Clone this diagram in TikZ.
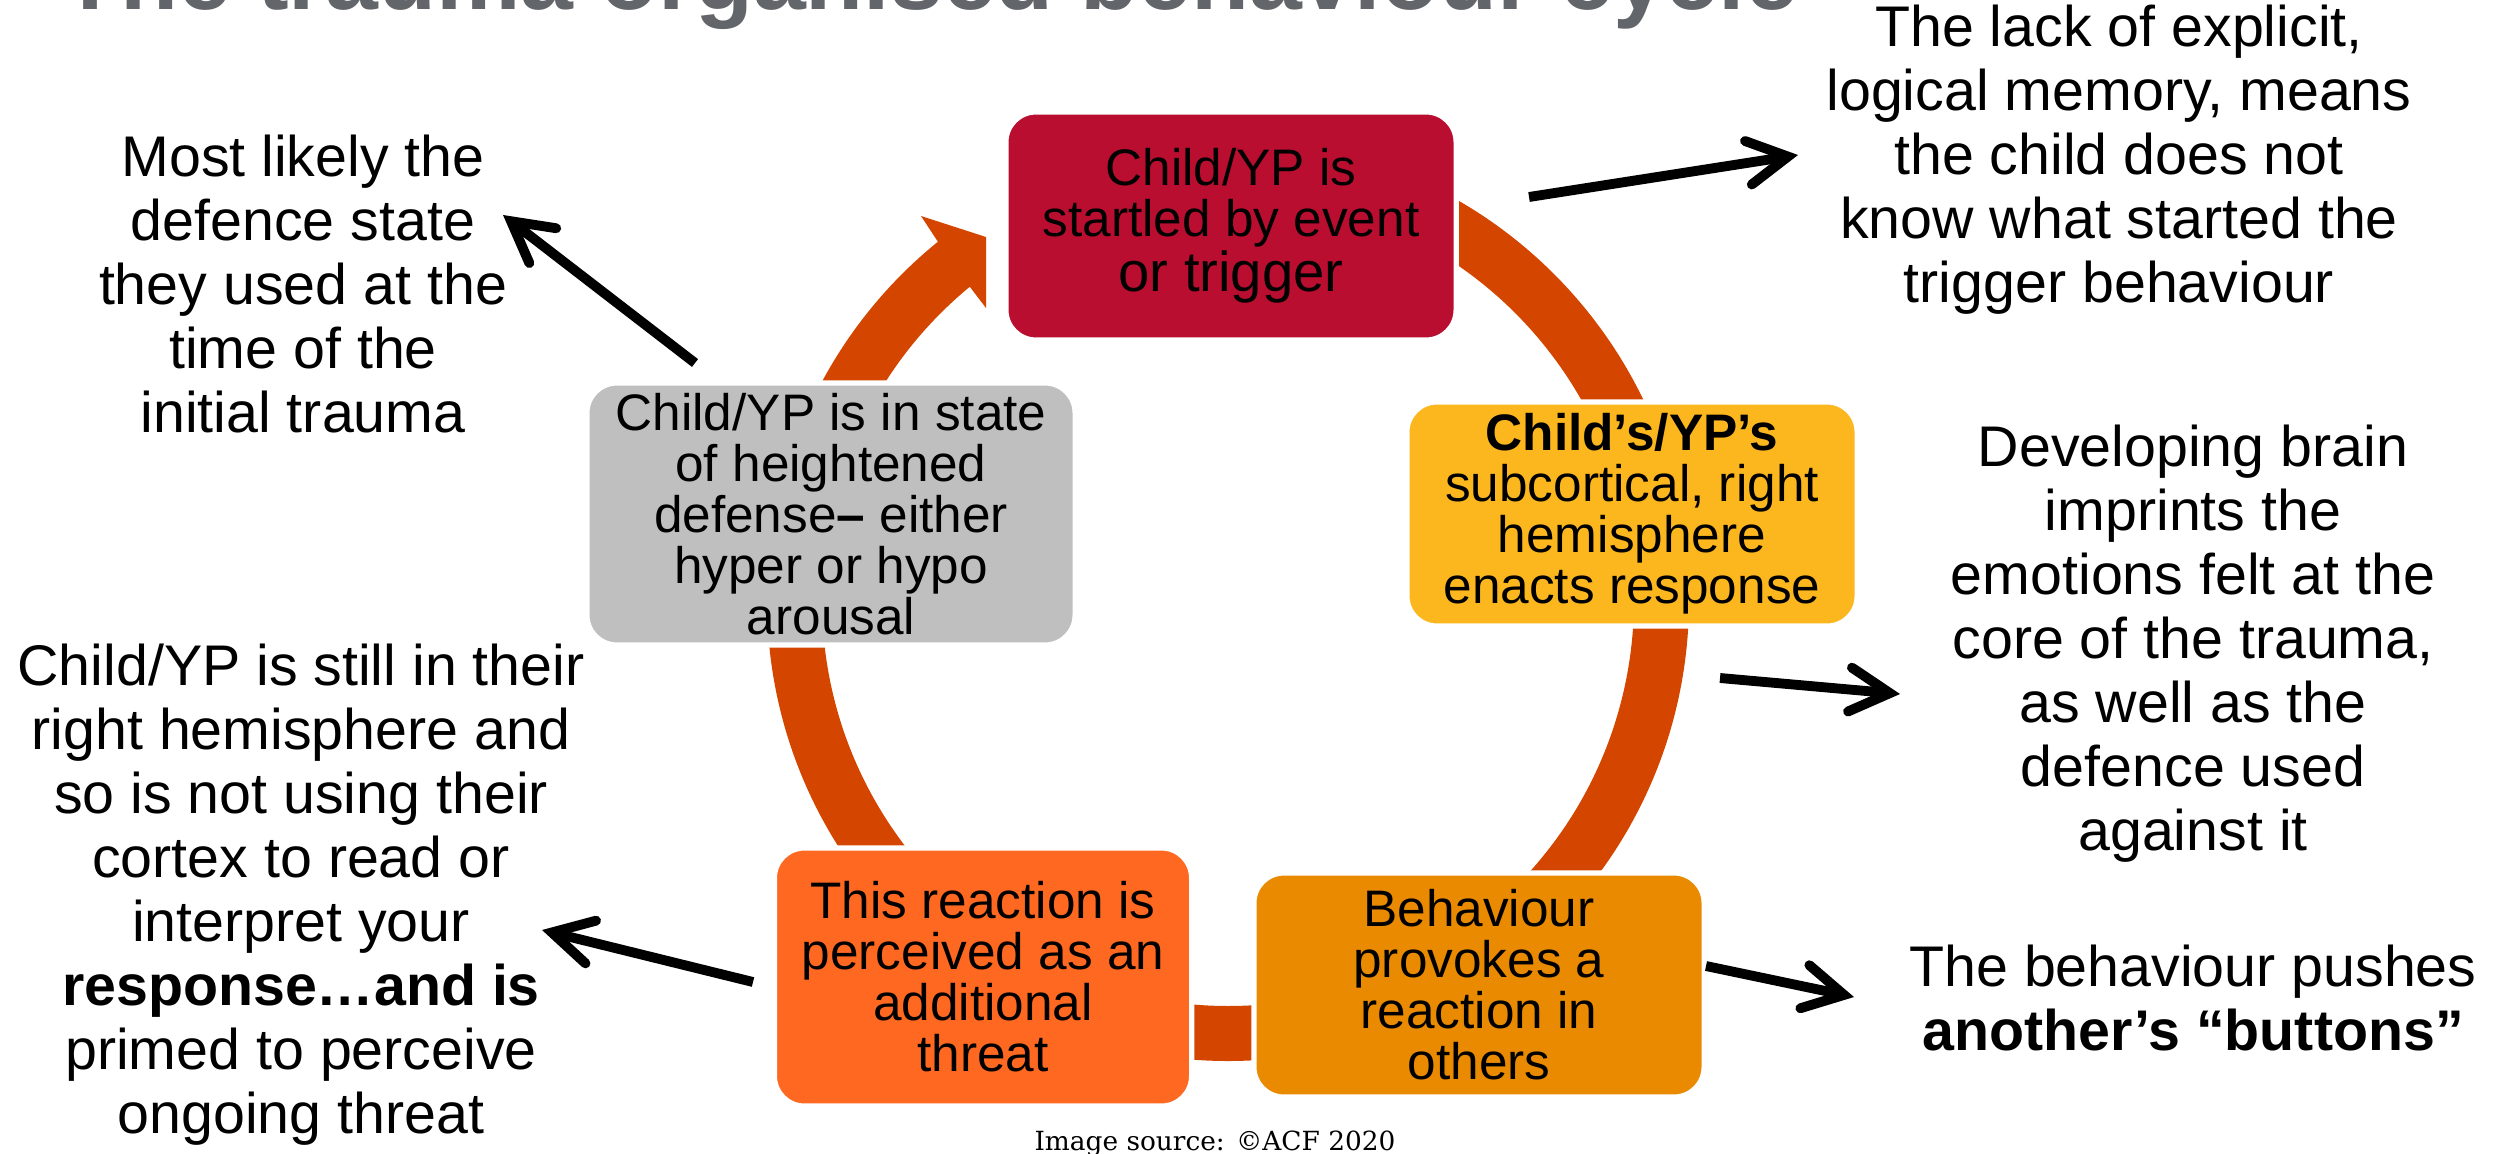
\documentclass[tikz,border=0pt]{standalone}
\usepackage{fontspec}
\setmainfont{Liberation Sans}
\newfontfamily\srcfont{DejaVu Serif}
\usetikzlibrary{positioning}
\usetikzlibrary{calc}
\usetikzlibrary{arrows.meta}

\definecolor{ringc}{RGB}{212,70,0}
\definecolor{redbox}{RGB}{186,14,48}
\definecolor{yellowbox}{RGB}{252,183,30}
\definecolor{amberbox}{RGB}{233,138,0}
\definecolor{orangebox}{RGB}{254,104,32}
\definecolor{graybox}{RGB}{191,191,191}
\definecolor{titlegray}{RGB}{98,101,105}

\begin{document}
\begin{tikzpicture}[x=0.01cm,y=0.01cm,
 box/.style={rectangle,rounded corners=0.3cm,draw=white,line width=1.5pt,inner sep=0pt,align=center,font=\fontsize{14.6}{14.5}\selectfont},
 note/.style={align=center,inner sep=0pt,font=\fontsize{16.3}{18.2}\selectfont},
 pointer/.style={line width=2.8pt,-{Straight Barb[length=4mm,width=4.4mm,line cap=round]}}]
 \useasboundingbox (0,0) rectangle (2501,1153);
 \node[anchor=base,text=titlegray,font=\fontsize{27}{30}\selectfont\bfseries] (title) at (930,1144) {The trauma organised behaviour cycle};
 % ring with its head
 \coordinate (ctr) at (1228,553);
 \fill[ringc] ($(ctr)+(90:461)$) arc[start angle=90,end angle=-231,radius=461] -- (921,937) -- (986,916) -- (986,845) -- ($(ctr)+(129.5:406)$) arc[start angle=-230.5,end angle=90,radius=406] -- cycle;
 % boxes
 \node[box,fill=redbox,minimum width=4.5cm,minimum height=2.28cm] (trigger) at (1231,927) {Child/YP is\\startled by event\\{\fontsize{16}{14.5}\selectfont or trigger}};
 \node[box,fill=yellowbox,minimum width=4.5cm,minimum height=2.24cm] (response) at (1632,639) {\textbf{Child’s/YP’s}\\subcortical, right\\hemisphere\\enacts response};
 \node[box,fill=amberbox,minimum width=4.5cm,minimum height=2.24cm] (provoke) at (1479,168) {Behaviour\\provokes a\\reaction in\\others};
 \node[box,fill=orangebox,minimum width=4.17cm,minimum height=2.58cm] (threat) at (983,176) {This reaction is\\perceived as an\\additional\\threat};
 \node[box,fill=graybox,minimum width=4.88cm,minimum height=2.62cm] (defense) at (831,639) {Child/YP is in state\\of heightened\\defense\textbf{–} either\\hyper or hypo\\arousal};
 % notes
 \node[note] (memory) at (2119,993) {The lack of explicit,\\logical memory, means\\the child does not\\know what started the\\trigger behaviour};
 \node[note] (likely) at (303,869) {Most likely the\\defence state\\they used at the\\time of the\\initial trauma};
 \node[note] (imprint) at (2193,509) {Developing brain\\imprints the\\emotions felt at the\\core of the trauma,\\as well as the\\defence used\\against it};
 \node[note] (buttons) at (2193,155) {The behaviour pushes\\\textbf{another’s “buttons”}};
 \node[note] (primed) at (301,258) {Child/YP is still in their\\right hemisphere and\\so is not using their\\cortex to read or\\interpret your\\\textbf{response…and is}\\primed to perceive\\ongoing threat};
 \node[anchor=base,inner sep=0pt,font=\srcfont\fontsize{7.5}{9}\selectfont] (source) at (1215,3) {Image source: ©ACF 2020};
 % pointers
 \coordinate (p1) at (1529,956); \coordinate (q1) at (1798,998);
 \coordinate (p2) at (695,790); \coordinate (q2) at (503,938);
 \coordinate (p3) at (1720,475); \coordinate (q3) at (1900,459);
 \coordinate (p4) at (1706,187); \coordinate (q4) at (1854,156);
 \coordinate (p5) at (753,171); \coordinate (q5) at (542,223);
 \draw[pointer] (p1) -- (q1);
 \draw[pointer] (p2) -- (q2);
 \draw[pointer] (p3) -- (q3);
 \draw[pointer] (p4) -- (q4);
 \draw[pointer] (p5) -- (q5);
\end{tikzpicture}
\end{document}
